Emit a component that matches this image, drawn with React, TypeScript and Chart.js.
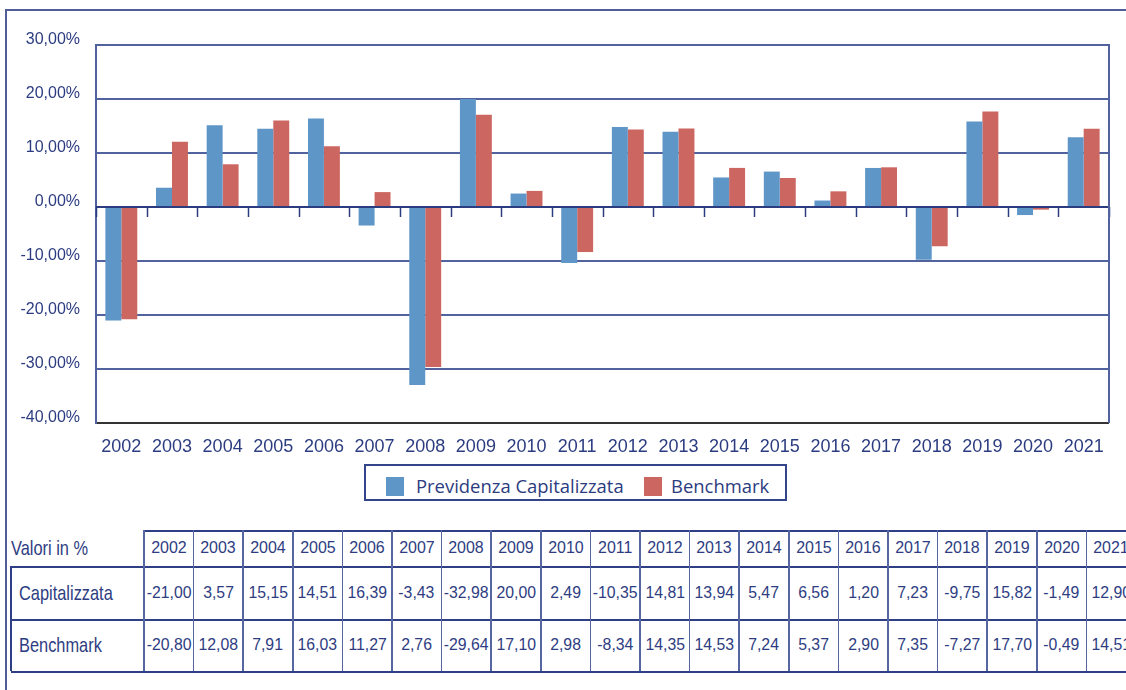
import React, { useEffect, useRef } from 'react';
import { Chart, registerables } from 'chart.js';

Chart.register(...registerables);

const years = ['2002', '2003', '2004', '2005', '2006', '2007', '2008', '2009', '2010', '2011', '2012', '2013', '2014', '2015', '2016', '2017', '2018', '2019', '2020', '2021'];
const capitalizzata = [-21.0, 3.57, 15.15, 14.51, 16.39, -3.43, -32.98, 20.0, 2.49, -10.35, 14.81, 13.94, 5.47, 6.56, 1.2, 7.23, -9.75, 15.82, -1.49, 12.9];
const benchmark = [-20.8, 12.08, 7.91, 16.03, 11.27, 2.76, -29.64, 17.1, 2.98, -8.34, 14.35, 14.53, 7.24, 5.37, 2.9, 7.35, -7.27, 17.7, -0.49, 14.51];
const seriesNames = ['Previdenza Capitalizzata', 'Benchmark'];
const rowLabels = ['Capitalizzata', 'Benchmark'];
const tableTitle = 'Valori in %';
const yMin = -40;
const yMax = 30;
const yStep = 10;

const BLUE = '#5f96c8';
const RED = '#cc6660';
const NAVY = '#2c3c80';
const GRID = '#52629e';
const FONT = '"Liberation Sans", Arial, Helvetica, sans-serif';

const fmt = (v: number) => v.toFixed(2).replace('.', ',');

const framePlugin = {
  id: 'framePlugin',
  afterDatasetsDraw(chart: any) {
    const { ctx, chartArea, scales } = chart;
    const y0 = scales.y.getPixelForValue(0);
    ctx.save();
    ctx.strokeStyle = NAVY;
    ctx.lineWidth = 2;
    ctx.beginPath();
    ctx.moveTo(chartArea.left, y0);
    ctx.lineTo(chartArea.right, y0);
    ctx.stroke();
    const n = chart.data.labels.length;
    const w = (chartArea.right - chartArea.left) / n;
    ctx.lineWidth = 1.5;
    for (let i = 0; i <= n; i++) {
      const x = Math.round(chartArea.left + i * w) + 0.5;
      ctx.beginPath();
      ctx.moveTo(x, y0);
      ctx.lineTo(x, y0 + 10);
      ctx.stroke();
    }
    ctx.strokeStyle = GRID;
    ctx.lineWidth = 2;
    ctx.beginPath();
    ctx.moveTo(chartArea.right, chartArea.top - 1);
    ctx.lineTo(chartArea.right, chartArea.bottom);
    ctx.stroke();
    ctx.restore();
  },
};

export default function App() {
  const canvasRef = useRef<HTMLCanvasElement | null>(null);

  useEffect(() => {
    if (!canvasRef.current) return;
    const chart = new Chart(canvasRef.current, {
      type: 'bar',
      data: {
        labels: years,
        datasets: [
          { label: seriesNames[0], data: capitalizzata, backgroundColor: BLUE, categoryPercentage: 0.63, barPercentage: 1 },
          { label: seriesNames[1], data: benchmark, backgroundColor: RED, categoryPercentage: 0.63, barPercentage: 1 },
        ],
      },
      options: {
        responsive: false,
        animation: false,
        layout: { padding: { left: 0, right: 17, top: 45, bottom: 0 } },
        plugins: { legend: { display: false }, tooltip: { enabled: false } },
        scales: {
          x: {
            grid: { display: false },
            border: { display: false },
            ticks: { color: NAVY, font: { family: FONT, size: 18 }, padding: 5, maxRotation: 0, autoSkip: false },
            afterFit: (s: any) => { s.height = 37; },
          },
          y: {
            min: yMin,
            max: yMax,
            ticks: {
              stepSize: yStep,
              color: NAVY,
              font: { family: FONT, size: 16 },
              padding: 16,
              labelOffset: -5,
              callback: (v: any) => fmt(Number(v)) + '%',
            },
            grid: {
              color: (c: any) => (c.tick && c.tick.value === yMin ? '#333333' : GRID),
              lineWidth: 2,
              drawTicks: false,
            },
            border: { display: true, color: GRID, width: 2 },
            afterFit: (s: any) => { s.width = 96; },
          },
        },
      },
      plugins: [framePlugin],
    } as any);
    return () => chart.destroy();
  }, []);

  const colX0 = 144;
  const colW = 49.6;
  const tableRight = colX0 + colW * years.length;
  const rowTops = [530, 566, 619, 671];
  const lineColor = '#2f3f86';
  const vColor = '#5666a0';
  const textColor = '#2e3d82';

  const hLines = [
    { x: colX0, y: rowTops[0], w: tableRight - colX0 },
    { x: 11, y: rowTops[1], w: tableRight - 11 },
    { x: 11, y: rowTops[2], w: tableRight - 11 },
    { x: 11, y: rowTops[3], w: tableRight - 11 },
  ];
  const vLines: { x: number; y: number; h: number }[] = [{ x: 10, y: rowTops[1], h: rowTops[3] - rowTops[1] }];
  for (let i = 0; i <= years.length; i++) {
    vLines.push({ x: colX0 + i * colW - 0.75, y: rowTops[0], h: rowTops[3] - rowTops[0] });
  }

  const cell = (left: number, top: number, width: number, height: number, text: string, key: string, scale: number, size: number) => (
    <div
      key={key}
      style={{
        position: 'absolute', left, top, width, height, display: 'flex', alignItems: 'center', justifyContent: 'center',
        fontFamily: FONT, fontSize: size, color: textColor, whiteSpace: 'nowrap',
      }}
    >
      <span style={{ display: 'inline-block', transform: `scaleX(${scale})` }}>{text}</span>
    </div>
  );

  const label = (left: number, top: number, height: number, text: string, key: string) => (
    <div
      key={key}
      style={{
        position: 'absolute', left, top, height, display: 'flex', alignItems: 'center',
        fontFamily: FONT, fontSize: 21, color: textColor, whiteSpace: 'nowrap',
      }}
    >
      <span style={{ display: 'inline-block', transform: 'scaleX(0.78)', transformOrigin: 'left center' }}>{text}</span>
    </div>
  );

  const series = [capitalizzata, benchmark];

  return (
    <div style={{ position: 'absolute', left: 0, top: 0, width: 1126, height: 690, overflow: 'hidden', background: '#ffffff' }}>
      <div style={{ position: 'absolute', left: 5, top: 9, width: 1200, height: 800, borderTop: '2px solid #4f5f9a', borderLeft: '2px solid #4f5f9a' }} />
      <canvas ref={canvasRef} width={1126} height={460} style={{ position: 'absolute', left: 0, top: 0 }} />

      <div style={{ position: 'absolute', left: 364, top: 464, width: 423, height: 37, border: '2px solid #34448a', boxSizing: 'border-box' }} />
      <div style={{ position: 'absolute', left: 386, top: 477, width: 18, height: 19, background: BLUE }} />
      <div style={{ position: 'absolute', left: 416, top: 476, lineHeight: '20px', fontFamily: '"Open Sans", sans-serif', fontSize: 19, color: NAVY, whiteSpace: 'nowrap', transform: 'scaleX(0.97)', transformOrigin: 'left center' }}>{seriesNames[0]}</div>
      <div style={{ position: 'absolute', left: 644, top: 477, width: 18, height: 19, background: RED }} />
      <div style={{ position: 'absolute', left: 671, top: 476, lineHeight: '20px', fontFamily: '"Open Sans", sans-serif', fontSize: 19, color: NAVY, whiteSpace: 'nowrap', transform: 'scaleX(0.97)', transformOrigin: 'left center' }}>{seriesNames[1]}</div>

      {hLines.map((l, i) => (
        <div key={'h' + i} style={{ position: 'absolute', left: l.x, top: l.y, width: l.w, height: 1.5, background: lineColor }} />
      ))}
      {vLines.map((l, i) => (
        <div key={'v' + i} style={{ position: 'absolute', left: l.x, top: l.y, width: 1.5, height: l.h, background: i === 0 ? lineColor : vColor }} />
      ))}

      {label(11, rowTops[0], rowTops[1] - rowTops[0], tableTitle, 'title')}
      {years.map((y, i) => cell(colX0 + i * colW, rowTops[0], colW, rowTops[1] - rowTops[0], y, 'y' + i, 0.94, 17))}
      {rowLabels.map((r, ri) => label(19, rowTops[ri + 1], rowTops[ri + 2] - rowTops[ri + 1], r, 'r' + ri))}
      {series.map((s, ri) =>
        s.map((v, i) => cell(colX0 + i * colW, rowTops[ri + 1], colW, rowTops[ri + 2] - rowTops[ri + 1], fmt(v), 'c' + ri + '_' + i, 0.93, 17))
      )}
    </div>
  );
}
